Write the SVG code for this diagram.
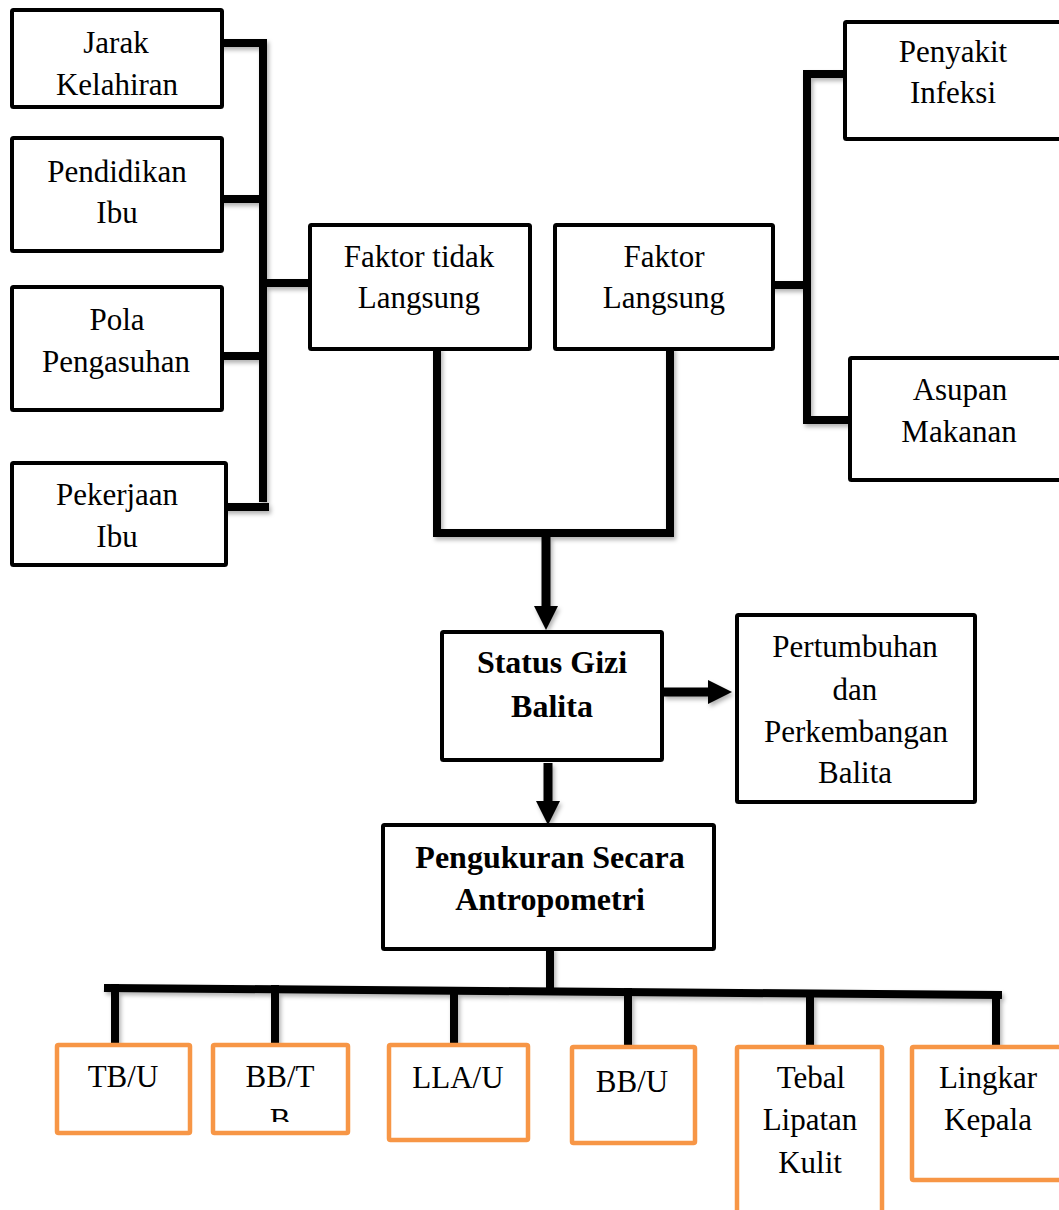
<svg xmlns="http://www.w3.org/2000/svg" width="1059" height="1210" viewBox="0 0 1059 1210">
  <defs>
    <style>
      .box { fill: #fff; stroke: #000; stroke-width: 4; }
      .obox { fill: #fff; stroke: #F79646; stroke-width: 4.5; }
      .t { font-family: "Liberation Serif", "Times New Roman", serif; font-size: 31px; fill: #000; text-anchor: middle; }
      .b { font-family: "Liberation Serif", "Times New Roman", serif; font-size: 32px; font-weight: bold; fill: #000; text-anchor: middle; }
      .c { fill: none; stroke: #000; stroke-width: 8; stroke-linecap: square; }
      .ca { fill: none; stroke: #000; stroke-width: 9; stroke-linecap: butt; }
    </style>
    <filter id="sh" x="-20%" y="-20%" width="140%" height="140%">
      <feDropShadow dx="2" dy="3" stdDeviation="2" flood-color="#000" flood-opacity="0.3"/>
    </filter>
    <marker id="arr" markerUnits="userSpaceOnUse" viewBox="0 0 24 24" markerWidth="24" markerHeight="24" refX="4" refY="12" orient="auto">
      <path d="M0,0 L24,12 L0,24 Z" fill="#000"/>
    </marker>
    <clipPath id="clipBBTB">
      <rect x="213" y="1045" width="135" height="77"/>
    </clipPath>
  </defs>

  <g id="connectors" filter="url(#sh)">
    <!-- left bus -->
    <line class="c" x1="222" y1="43" x2="263" y2="43"/>
    <line class="c" x1="263" y1="43" x2="263" y2="498"/>
    <line class="c" x1="222" y1="199" x2="263" y2="199"/>
    <line class="c" x1="222" y1="356" x2="263" y2="356"/>
    <line class="c" x1="226" y1="507" x2="265" y2="507"/>
    <line class="c" x1="263" y1="283" x2="308" y2="283"/>
    <!-- right bus -->
    <line class="c" x1="773" y1="285" x2="807" y2="285"/>
    <line class="c" x1="807" y1="74" x2="807" y2="420"/>
    <line class="c" x1="807" y1="74" x2="843" y2="74"/>
    <line class="c" x1="807" y1="420" x2="848" y2="420"/>
    <!-- merge of factors -->
    <line class="c" x1="437" y1="351" x2="437" y2="533"/>
    <line class="c" x1="670" y1="351" x2="670" y2="533"/>
    <line class="c" x1="437" y1="533" x2="670" y2="533"/>
    <line class="ca" x1="546" y1="537" x2="546" y2="610" marker-end="url(#arr)"/>
    <!-- status gizi outputs -->
    <line class="ca" x1="663" y1="692" x2="712" y2="692" marker-end="url(#arr)"/>
    <line class="ca" x1="548" y1="763" x2="548" y2="805" marker-end="url(#arr)"/>
    <!-- anthropometry bus -->
    <line class="c" x1="550" y1="951" x2="550" y2="989"/>
    <line class="c" x1="108" y1="988" x2="998" y2="995"/>
    <line class="c" x1="996" y1="995" x2="996" y2="1045"/>
    <line class="c" x1="115" y1="988" x2="115" y2="1045"/>
    <line class="c" x1="275" y1="989" x2="275" y2="1045"/>
    <line class="c" x1="454" y1="991" x2="454" y2="1045"/>
    <line class="c" x1="628" y1="992" x2="628" y2="1045"/>
    <line class="c" x1="810" y1="994" x2="810" y2="1045"/>
  </g>

  <g id="n-jarak">
    <rect class="box" x="12" y="10" width="210" height="97" rx="1.5"/>
    <text class="t" x="116" y="53">Jarak</text>
    <text class="t" x="117" y="95">Kelahiran</text>
  </g>
  <g id="n-pendidikan">
    <rect class="box" x="12" y="138" width="210" height="113" rx="1.5"/>
    <text class="t" x="117" y="182">Pendidikan</text>
    <text class="t" x="117" y="223">Ibu</text>
  </g>
  <g id="n-pola">
    <rect class="box" x="12" y="287" width="210" height="123" rx="1.5"/>
    <text class="t" x="117" y="330">Pola</text>
    <text class="t" x="116" y="372">Pengasuhan</text>
  </g>
  <g id="n-pekerjaan">
    <rect class="box" x="12" y="463" width="214" height="102" rx="1.5"/>
    <text class="t" x="117" y="505">Pekerjaan</text>
    <text class="t" x="117" y="547">Ibu</text>
  </g>
  <g id="n-faktor-tidak">
    <rect class="box" x="310" y="225" width="220" height="124" rx="1.5"/>
    <text class="t" x="419" y="267">Faktor tidak</text>
    <text class="t" x="419" y="308">Langsung</text>
  </g>
  <g id="n-faktor-langsung">
    <rect class="box" x="555" y="225" width="218" height="124" rx="1.5"/>
    <text class="t" x="664" y="267">Faktor</text>
    <text class="t" x="664" y="308">Langsung</text>
  </g>
  <g id="n-penyakit">
    <rect class="box" x="845" y="22" width="230" height="117" rx="1.5"/>
    <text class="t" x="953" y="62">Penyakit</text>
    <text class="t" x="953" y="103">Infeksi</text>
  </g>
  <g id="n-asupan">
    <rect class="box" x="850" y="358" width="230" height="122" rx="1.5"/>
    <text class="t" x="960" y="400">Asupan</text>
    <text class="t" x="959" y="442">Makanan</text>
  </g>
  <g id="n-status">
    <rect class="box" x="442" y="632" width="220" height="128" rx="1.5"/>
    <text class="b" x="552" y="673">Status Gizi</text>
    <text class="b" x="552" y="717">Balita</text>
  </g>
  <g id="n-pertumbuhan">
    <rect class="box" x="737" y="615" width="238" height="187" rx="1.5"/>
    <text class="t" x="855" y="657">Pertumbuhan</text>
    <text class="t" x="855" y="700">dan</text>
    <text class="t" x="856" y="742">Perkembangan</text>
    <text class="t" x="855" y="783">Balita</text>
  </g>
  <g id="n-pengukuran">
    <rect class="box" x="383" y="825" width="331" height="124" rx="1.5"/>
    <text class="b" x="550" y="868">Pengukuran Secara</text>
    <text class="b" x="550" y="910">Antropometri</text>
  </g>
  <g id="n-tbu">
    <rect class="obox" x="57" y="1045" width="133" height="88" rx="1.5"/>
    <text class="t" x="123" y="1087">TB/U</text>
  </g>
  <g id="n-bbtb">
    <rect class="obox" x="213" y="1045" width="135" height="88" rx="1.5"/>
    <g clip-path="url(#clipBBTB)">
      <text class="t" x="280" y="1087">BB/T</text>
      <text class="t" x="280" y="1130">B</text>
    </g>
  </g>
  <g id="n-llau">
    <rect class="obox" x="389" y="1045" width="139" height="95" rx="1.5"/>
    <text class="t" x="458" y="1088">LLA/U</text>
  </g>
  <g id="n-bbu">
    <rect class="obox" x="572" y="1047" width="123" height="96" rx="1.5"/>
    <text class="t" x="632" y="1092">BB/U</text>
  </g>
  <g id="n-tebal">
    <rect class="obox" x="737" y="1047" width="145" height="180" rx="1.5"/>
    <text class="t" x="811" y="1088">Tebal</text>
    <text class="t" x="810" y="1130">Lipatan</text>
    <text class="t" x="810" y="1173">Kulit</text>
  </g>
  <g id="n-lingkar">
    <rect class="obox" x="912" y="1047" width="170" height="133" rx="1.5"/>
    <text class="t" x="988" y="1088">Lingkar</text>
    <text class="t" x="988" y="1130">Kepala</text>
  </g>
</svg>
